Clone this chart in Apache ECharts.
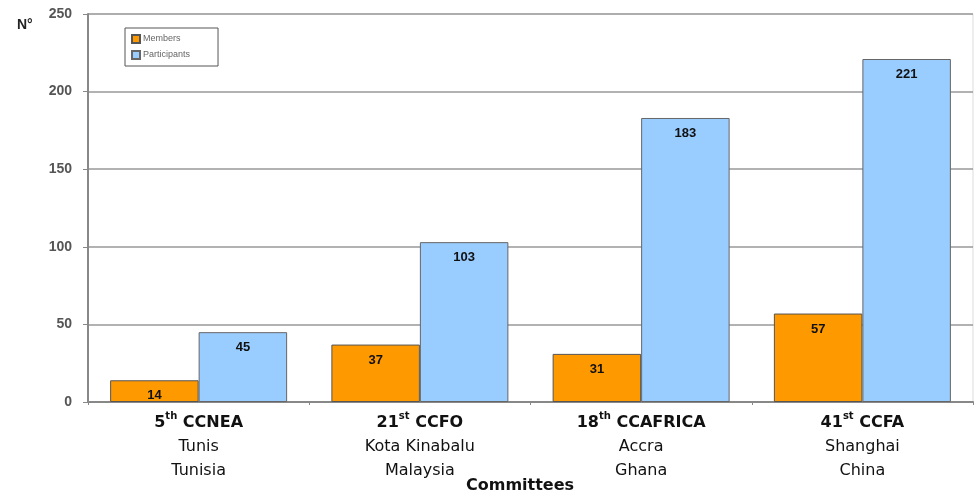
<!DOCTYPE html>
<html>
<head>
<meta charset="utf-8">
<script src="https://cdn.jsdelivr.net/npm/echarts@6/dist/echarts.min.js"></script>
<style>
html,body{margin:0;padding:0;background:#fff;}
#main{width:979px;height:498px;}
</style>
</head>
<body>
<div id="main"></div>
<script>
// data
var committees = ['5|th|CCNEA', '21|st|CCFO', '18|th|CCAFRICA', '41|st|CCFA'];
var places = [['Tunis', 'Tunisia'], ['Kota Kinabalu', 'Malaysia'], ['Accra', 'Ghana'], ['Shanghai', 'China']];
var members = [14, 37, 31, 57];
var participants = [45, 103, 183, 221];
var yTicks = [0, 50, 100, 150, 200, 250];

var dom = document.getElementById('main');
var myChart = echarts.init(dom);

var barLabel = {
	show: true,
	position: 'insideTop',
	distance: 9,
	color: '#111',
	fontFamily: 'Arial',
	fontWeight: 'bold',
	fontSize: 13
};

var option = {
	animation: false,
	title: {
		text: 'N°',
		left: 12,
		top: 13,
		textStyle: {fontFamily: 'Arial', fontWeight: 'bold', fontSize: 14, color: '#222'}
	},
	// x axis title
	graphic: [{
		type: 'text',
		left: 466,
		top: 478,
		style: {text: 'Committees', fontFamily: 'DejaVu Sans', fontWeight: 'bold', fontSize: 16, fill: '#111'}
	}],
	legend: {
		orient: 'vertical',
		left: 125,
		top: 28,
		padding: [6, 28, 6, 6],
		itemGap: 6,
		itemWidth: 8,
		itemHeight: 8,
		borderColor: '#555',
		borderWidth: 1,
		icon: 'rect',
		textStyle: {fontFamily: 'Arial', fontSize: 9, color: '#666', padding: [0, 0, 0, -2]},
		data: ['Members', 'Participants']
	},
	grid: {
		left: 88,
		right: 6,
		top: 14,
		height: 388,
		outerBoundsMode: 'none',
		containLabel: false,
		show: true,
		borderColor: '#ddd',
		borderWidth: 1
	},
	xAxis: {
		type: 'category',
		data: committees,
		axisLine: {lineStyle: {color: '#888', width: 2}},
		axisTick: {show: true, length: 3, lineStyle: {color: '#888'}},
		axisLabel: {
			margin: 9,
			lineHeight: 24,
			formatter: function (val, idx) {
				var p = val.split('|');
				return '{b|' + p[0] + '}{sup|' + p[1] + '}{b| ' + p[2] + '}\n{n|' + places[idx][0] + '}\n{n|' + places[idx][1] + '}';
			},
			rich: {
				b: {fontFamily: 'DejaVu Sans', fontWeight: 'bold', fontSize: 16, color: '#111', lineHeight: 24},
				sup: {fontFamily: 'DejaVu Sans', fontWeight: 'bold', fontSize: 10, color: '#111', verticalAlign: 'top', padding: [0, 0, 7, 0], lineHeight: 24},
				n: {fontFamily: 'DejaVu Sans', fontSize: 16, color: '#111', lineHeight: 24}
			}
		}
	},
	yAxis: {
		type: 'value',
		min: 0,
		max: 250,
		interval: 50,
		axisLine: {show: true, lineStyle: {color: '#888', width: 2}},
		axisTick: {show: true, length: 5, lineStyle: {color: '#888'}},
		axisLabel: {
			margin: 16,
			fontFamily: 'Arial',
			fontWeight: 'bold',
			fontSize: 14,
			color: '#555',
			formatter: function (v) { return yTicks.indexOf(v) >= 0 ? String(v) : ''; }
		},
		splitLine: {show: true, lineStyle: {color: '#999', width: 1.5}}
	},
	series: [
		{
			name: 'Members',
			type: 'bar',
			data: members,
			barGap: '0%',
			barCategoryGap: '20%',
			itemStyle: {color: '#ff9900', borderColor: '#555', borderWidth: 1},
			label: barLabel
		},
		{
			name: 'Participants',
			type: 'bar',
			data: participants,
			itemStyle: {color: '#99ccff', borderColor: '#666', borderWidth: 1},
			label: barLabel
		}
	]
};
if (option && typeof option === "object") {
	myChart.setOption(option, true);
}
</script>
</body>
</html>
